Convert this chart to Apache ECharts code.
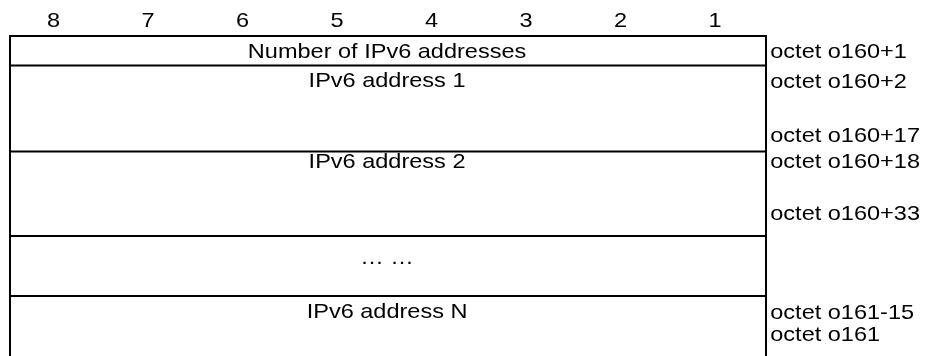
<!DOCTYPE html>
<html><head><meta charset="utf-8">
<script src="https://cdn.jsdelivr.net/npm/echarts@6/dist/echarts.min.js"></script>
<style>html,body{margin:0;padding:0;background:#fff}#c{width:926px;height:356px}</style>
</head><body><div id="c"></div>
<script>
// bit numbers across the top (column order left to right)
const bits = ['8','7','6','5','4','3','2','1'];
// table rows: names and their top edges (y units, downward from table top)
const rowNames = ['Number of IPv6 addresses','IPv6 address 1','IPv6 address 2','\u2026 \u2026','IPv6 address N'];
const rowTops = [0, 29.5, 115.5, 200, 260];
const rowNameY = [16, 45.5, 126, 222, 276.5];
const tableBottom = 320;
// octet labels on the right
const octetLabels = ['octet o160+1','octet o160+2','octet o160+17','octet o160+18','octet o160+33','octet o161-15','octet o161'];
const octetY = [16.5, 46, 100, 126, 178, 277, 299.5];

const FONT = '"Liberation Sans", Arial, sans-serif';
const FS = 21, SX = 1.12;

const chart = echarts.init(document.getElementById('c'));
function txt(p, s, align){
  return {type:'text', x:p[0], y:p[1], scaleX:SX, scaleY:1,
    style:{text:s, fontSize:FS, fontFamily:FONT, fill:'#000', align:align, verticalAlign:'middle'}};
}
chart.setOption({
  animation:false,
  grid:{left:10, right:160, top:36, bottom:0},
  xAxis:{type:'value', min:0, max:8, show:false},
  yAxis:{type:'value', min:0, max:tableBottom, inverse:true, show:false},
  series:[{
    type:'custom', clip:false, silent:true,
    data:[[0,0]],
    renderItem:function(params, api){
      const ch = [];
      const ls = {stroke:'#000', lineWidth:2};
      rowTops.forEach(function(y){
        const a = api.coord([0,y]), b = api.coord([8,y]);
        ch.push({type:'line', shape:{x1:a[0]-1, y1:a[1], x2:b[0]+1, y2:b[1]}, style:ls});
      });
      [0,8].forEach(function(x){
        const a = api.coord([x,0]), b = api.coord([x,tableBottom]);
        ch.push({type:'line', shape:{x1:a[0], y1:a[1], x2:b[0], y2:b[1]}, style:ls});
      });
      bits.forEach(function(b,i){
        ch.push(txt(api.coord([i+0.46, -14.5]), b, 'center'));
      });
      rowNames.forEach(function(n,i){
        ch.push(txt(api.coord([3.99, rowNameY[i]]), n, 'center'));
      });
      octetLabels.forEach(function(n,i){
        ch.push(txt(api.coord([8.045, octetY[i]]), n, 'left'));
      });
      return {type:'group', children:ch};
    }
  }]
});
</script></body></html>
